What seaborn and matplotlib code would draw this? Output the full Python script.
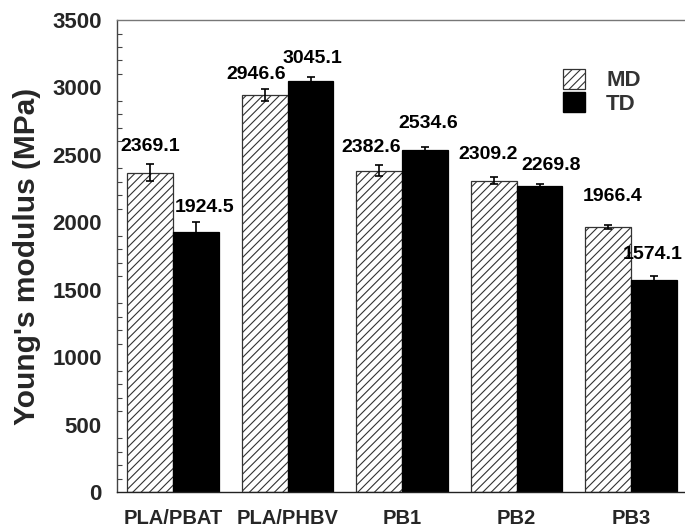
import matplotlib
matplotlib.use("Agg")
import matplotlib.pyplot as plt
from matplotlib.patches import Patch
from matplotlib.ticker import MultipleLocator
import seaborn as sns
import pandas as pd

# Young's modulus of cast films, machine (MD) and transverse (TD) direction
samples = ["PLA/PBAT", "PLA/PHBV", "PB1", "PB2", "PB3"]
md_values = [2369.1, 2946.6, 2382.6, 2309.2, 1966.4]
td_values = [1924.5, 3045.1, 2534.6, 2269.8, 1574.1]
md_err = [60, 45, 40, 25, 15]
td_err = [80, 35, 25, 15, 30]
directions = ["MD", "TD"]

# nudges (points) that keep neighbouring value labels apart
md_label_nudge = [(0, 7), (-6, 4), (-6, 7), (-4, 10), (3, 14)]
td_label_nudge = [(6, 4), (1, 7), (2, 11), (8, 7), (-1, 9)]

df = pd.DataFrame({
    "sample": samples * 2,
    "modulus": md_values + td_values,
    "direction": ["MD"] * len(samples) + ["TD"] * len(samples),
})

sns.set_style("white")
plt.rcParams["font.family"] = ["Liberation Sans", "DejaVu Sans"]
plt.rcParams["font.weight"] = "bold"
plt.rcParams["hatch.color"] = "#777777"
plt.rcParams["hatch.linewidth"] = 0.8

fig = plt.figure(figsize=(6.85, 5.31), dpi=100)
ax = fig.add_axes([0.1708, 0.0734, 0.8292, 0.8889])

sns.barplot(data=df, x="sample", y="modulus", hue="direction",
            order=samples, hue_order=directions,
            palette={"MD": "white", "TD": "black"},
            width=0.8, edgecolor="#333333", linewidth=0.9,
            errorbar=None, legend=False, ax=ax)

md_bars, td_bars = ax.containers[0], ax.containers[1]
for bar in md_bars:
    bar.set_hatch("////")
for bar in td_bars:
    bar.set_edgecolor("black")

for bars, vals, errs, nudges in ((md_bars, md_values, md_err, md_label_nudge),
                                 (td_bars, td_values, td_err, td_label_nudge)):
    xs = [b.get_x() + b.get_width() / 2 for b in bars]
    ax.errorbar(xs, vals, yerr=errs, fmt="none", ecolor="black",
                elinewidth=1.2, capsize=3, capthick=1.2, zorder=4)
    for x, v, e, (dx, dy) in zip(xs, vals, errs, nudges):
        ax.annotate(f"{v:.1f}", (x, v + e), xytext=(dx, dy),
                    textcoords="offset points", ha="center", va="bottom",
                    fontsize=14, fontweight="bold", color="black")

ax.set_ylim(0, 3500)
ax.set_xlim(-0.49, 4.47)
ax.yaxis.set_major_locator(MultipleLocator(500))
ax.yaxis.set_minor_locator(MultipleLocator(100))
ax.tick_params(axis="y", which="major", direction="in", length=7, width=0.9,
               color="#444444", pad=11, labelsize=16)
ax.tick_params(axis="y", which="minor", direction="in", length=3.5, width=0.8,
               color="#444444", left=True)
ax.tick_params(axis="x", length=0, pad=12, labelsize=14.5)
for lab in ax.get_xticklabels() + ax.get_yticklabels():
    lab.set_fontweight("bold")

ax.set_xlabel("")
ax.set_ylabel("Young's modulus (MPa)", fontsize=21.5, fontweight="bold", labelpad=8)

ax.spines["right"].set_visible(False)
ax.spines["left"].set_color("#444444")
ax.spines["bottom"].set_color("#222222")
ax.spines["top"].set_color("#777777")
for s in ("left", "bottom", "top"):
    ax.spines[s].set_linewidth(1.0)

handles = [
    Patch(facecolor="white", edgecolor="#333333", hatch="////", linewidth=0.9, label="MD"),
    Patch(facecolor="black", edgecolor="black", label="TD"),
]
leg = ax.legend(handles=handles, loc="upper left", bbox_to_anchor=(0.785, 0.897),
                frameon=False, fontsize=16, handlelength=1.0, handleheight=1.0,
                handletextpad=0.95, labelspacing=0.05, borderpad=0, borderaxespad=0)
for t in leg.get_texts():
    t.set_fontweight("bold")
    t.set_color("#333333")

fig.savefig("out.png", dpi=100)
